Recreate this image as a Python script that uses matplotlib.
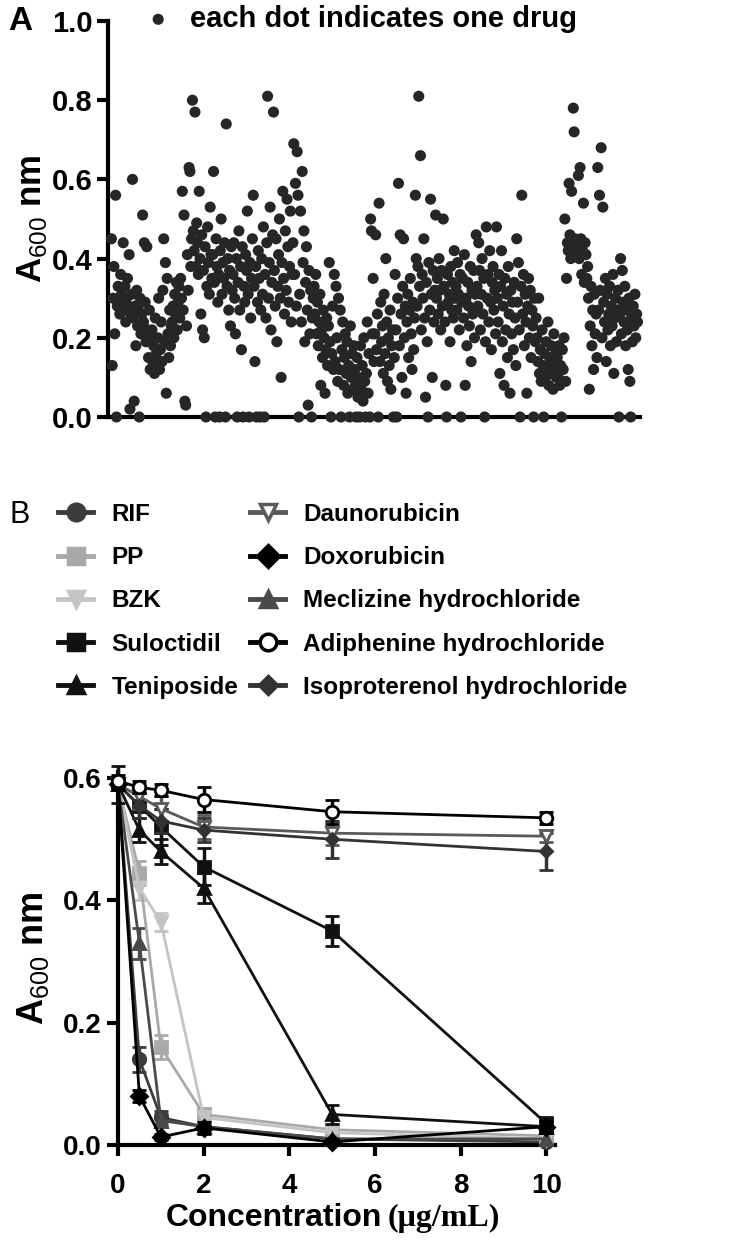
import matplotlib
matplotlib.use("Agg")
import matplotlib.pyplot as plt
from matplotlib.lines import Line2D

plt.rcParams['font.family'] = ['Liberation Sans', 'DejaVu Sans']
plt.rcParams['mathtext.fontset'] = 'custom'
plt.rcParams['mathtext.rm'] = 'Liberation Sans'
plt.rcParams['mathtext.bf'] = 'Liberation Sans:bold'

# ---------------- Panel A data: A600 per drug, in screening order ----------------
a_seg00 = [0.45,0.13,0.30,0.38,0.21,0.56,0.00,0.28,0.33,0.30,0.26,0.36,0.31,0.29,0.44,0.27,0.33,0.24,0.30,0.35,0.28,0.41,0.02,0.26]
a_seg01 = [0.31,0.60,0.25,0.04,0.28,0.18,0.32,0.23,0.27,0.00,0.30,0.21,0.26,0.51,0.24,0.44,0.29,0.19,0.43,0.22,0.15,0.27,0.12,0.20]
a_seg02 = [0.22,0.14,0.18,0.11,0.25,0.16,0.13,0.20,0.30,0.12,0.17,0.24,0.14,0.32,0.45,0.19,0.39,0.06,0.35,0.21,0.15,0.27,0.18,0.23]
a_seg03 = [0.24,0.28,0.20,0.31,0.26,0.34,0.22,0.29,0.33,0.25,0.35,0.30,0.57,0.27,0.51,0.04,0.03,0.23,0.41,0.32,0.63,0.62,0.38,0.45]
a_seg04 = [0.80,0.47,0.42,0.77,0.38,0.49,0.44,0.36,0.57,0.40,0.26,0.46,0.22,0.37,0.20,0.43,0.00,0.33,0.48,0.39,0.31,0.53,0.41,0.35]
a_seg05 = [0.41,0.62,0.34,0.00,0.45,0.38,0.29,0.36,0.00,0.42,0.50,0.31,0.39,0.35,0.44,0.00,0.74,0.33,0.40,0.27,0.37,0.23,0.43,0.32]
a_seg06 = [0.36,0.44,0.30,0.21,0.40,0.00,0.34,0.47,0.27,0.38,0.17,0.43,0.00,0.33,0.29,0.41,0.37,0.52,0.31,0.00,0.39,0.25,0.35,0.45]
a_seg07 = [0.56,0.33,0.14,0.38,0.00,0.29,0.42,0.35,0.00,0.27,0.40,0.31,0.48,0.00,0.36,0.25,0.44,0.81,0.30,0.39,0.53,0.22,0.34,0.46]
a_seg08 = [0.77,0.37,0.28,0.45,0.19,0.33,0.41,0.50,0.30,0.10,0.39,0.57,0.35,0.26,0.47,0.32,0.55,0.43,0.29,0.38,0.52,0.24,0.36,0.44]
a_seg09 = [0.69,0.36,0.59,0.28,0.67,0.56,0.00,0.31,0.52,0.24,0.62,0.39,0.47,0.19,0.34,0.43,0.27,0.03,0.37,0.21,0.32,0.00,0.25,0.30]
a_seg10 = [0.33,0.26,0.36,0.21,0.29,0.18,0.24,0.31,0.08,0.22,0.15,0.27,0.20,0.06,0.17,0.25,0.13,0.23,0.39,0.19,0.00,0.16,0.28,0.12]
a_seg11 = [0.36,0.14,0.33,0.20,0.09,0.30,0.12,0.27,0.00,0.17,0.24,0.08,0.15,0.21,0.11,0.19,0.06,0.13,0.00,0.23,0.10,0.16,0.07,0.18]
a_seg12 = [0.12,0.08,0.00,0.15,0.05,0.10,0.00,0.18,0.07,0.13,0.04,0.20,0.09,0.00,0.11,0.24,0.06,0.16,0.00,0.50,0.47,0.21,0.35,0.14]
a_seg13 = [0.21,0.46,0.17,0.26,0.00,0.54,0.14,0.29,0.19,0.23,0.11,0.31,0.16,0.40,0.24,0.09,0.20,0.13,0.27,0.07,0.18,0.22,0.00,0.15]
a_seg14 = [0.36,0.22,0.00,0.30,0.59,0.18,0.46,0.26,0.10,0.33,0.45,0.20,0.28,0.06,0.24,0.31,0.15,0.27,0.35,0.21,0.12,0.29,0.17,0.25]
a_seg15 = [0.56,0.40,0.28,0.38,0.81,0.33,0.66,0.22,0.36,0.30,0.45,0.25,0.05,0.34,0.19,0.00,0.39,0.27,0.55,0.31,0.10,0.37,0.24,0.32]
a_seg16 = [0.51,0.30,0.35,0.26,0.40,0.32,0.22,0.37,0.28,0.50,0.33,0.24,0.08,0.00,0.36,0.29,0.31,0.19,0.38,0.27,0.34,0.25,0.42,0.30]
a_seg17 = [0.33,0.27,0.39,0.31,0.22,0.36,0.00,0.29,0.35,0.25,0.41,0.08,0.30,0.18,0.34,0.28,0.23,0.38,0.14,0.32,0.26,0.37,0.20,0.31]
a_seg18 = [0.46,0.33,0.28,0.44,0.37,0.22,0.31,0.40,0.26,0.35,0.00,0.19,0.48,0.30,0.36,0.24,0.42,0.29,0.17,0.34,0.38,0.27,0.32,0.21]
a_seg19 = [0.48,0.30,0.24,0.36,0.11,0.33,0.42,0.19,0.28,0.08,0.35,0.22,0.31,0.15,0.38,0.26,0.06,0.32,0.21,0.29,0.17,0.34,0.25,0.13]
a_seg20 = [0.45,0.29,0.39,0.22,0.00,0.33,0.56,0.26,0.36,0.18,0.31,0.24,0.06,0.28,0.35,0.20,0.32,0.15,0.27,0.23,0.00,0.30,0.19,0.25]
a_seg21 = [0.20,0.14,0.30,0.11,0.17,0.09,0.22,0.13,0.00,0.16,0.10,0.19,0.12,0.24,0.08,0.15,0.11,0.18,0.14,0.07,0.21,0.12,0.16,0.10]
a_seg22 = [0.15,0.10,0.18,0.08,0.13,0.00,0.17,0.12,0.20,0.50,0.09,0.35,0.44,0.42,0.59,0.46,0.40,0.57,0.43,0.78,0.72,0.45,0.41,0.44]
a_seg23 = [0.43,0.61,0.40,0.63,0.45,0.36,0.42,0.54,0.34,0.44,0.41,0.35,0.38,0.30,0.07,0.23,0.33,0.18,0.27,0.12,0.31,0.21,0.26,0.15]
a_seg24 = [0.63,0.27,0.56,0.32,0.68,0.20,0.53,0.29,0.24,0.35,0.14,0.31,0.22,0.26,0.33,0.18,0.28,0.23,0.36,0.11,0.25,0.30,0.19,0.27]
a_seg25 = [0.32,0.00,0.26,0.40,0.21,0.37,0.29,0.24,0.33,0.18,0.27,0.22,0.12,0.30,0.09,0.00,0.25,0.19,0.28,0.23,0.31,0.20,0.26,0.24]

a_segments = [a_seg00, a_seg01, a_seg02, a_seg03, a_seg04, a_seg05, a_seg06, a_seg07,
              a_seg08, a_seg09, a_seg10, a_seg11, a_seg12, a_seg13, a_seg14, a_seg15,
              a_seg16, a_seg17, a_seg18, a_seg19, a_seg20, a_seg21, a_seg22, a_seg23,
              a_seg24, a_seg25]
a_values = [v for seg in a_segments for v in seg]
a_drug_index = list(range(1, len(a_values) + 1))

a_yticks = [0.0, 0.2, 0.4, 0.6, 0.8, 1.0]
a_ytick_labels = ["0.0", "0.2", "0.4", "0.6", "0.8", "1.0"]
a_legend = "each dot indicates one drug"

# ---------------- Panel B data ----------------
conc = [0, 0.5, 1, 2, 5, 10]
b_xticks = [0, 2, 4, 6, 8, 10]
b_yticks = [0.0, 0.2, 0.4, 0.6]
b_ytick_labels = ["0.0", "0.2", "0.4", "0.6"]

drug_names = ["RIF", "PP", "BZK", "Suloctidil", "Teniposide",
              "Daunorubicin", "Doxorubicin", "Meclizine hydrochloride",
              "Adiphenine hydrochloride", "Isoproterenol hydrochloride"]

rif_mean = [0.59, 0.14, 0.045, 0.03, 0.010, 0.005]
pp_mean = [0.59, 0.445, 0.160, 0.050, 0.025, 0.015]
bzk_mean = [0.59, 0.420, 0.365, 0.045, 0.020, 0.010]
suloctidil_mean = [0.59, 0.555, 0.520, 0.455, 0.350, 0.035]
teniposide_mean = [0.59, 0.515, 0.480, 0.420, 0.050, 0.030]
daunorubicin_mean = [0.59, 0.570, 0.550, 0.520, 0.510, 0.505]
doxorubicin_mean = [0.59, 0.080, 0.013, 0.028, 0.005, 0.030]
meclizine_mean = [0.59, 0.330, 0.040, 0.030, 0.010, 0.010]
adiphenine_mean = [0.595, 0.585, 0.580, 0.565, 0.545, 0.535]
isoproterenol_mean = [0.59, 0.555, 0.530, 0.515, 0.500, 0.480]

rif_sd = [0.01, 0.02, 0.01, 0.01, 0.005, 0.005]
pp_sd = [0.01, 0.02, 0.02, 0.01, 0.005, 0.005]
bzk_sd = [0.01, 0.02, 0.015, 0.01, 0.005, 0.005]
suloctidil_sd = [0.01, 0.02, 0.03, 0.03, 0.025, 0.01]
teniposide_sd = [0.03, 0.02, 0.02, 0.025, 0.015, 0.01]
daunorubicin_sd = [0.01, 0.02, 0.02, 0.02, 0.02, 0.01]
doxorubicin_sd = [0.01, 0.01, 0.005, 0.01, 0.005, 0.01]
meclizine_sd = [0.01, 0.025, 0.01, 0.01, 0.005, 0.005]
adiphenine_sd = [0.01, 0.01, 0.01, 0.02, 0.02, 0.01]
isoproterenol_sd = [0.01, 0.02, 0.02, 0.02, 0.03, 0.03]

means = [rif_mean, pp_mean, bzk_mean, suloctidil_mean, teniposide_mean,
         daunorubicin_mean, doxorubicin_mean, meclizine_mean, adiphenine_mean, isoproterenol_mean]
sds = [rif_sd, pp_sd, bzk_sd, suloctidil_sd, teniposide_sd,
       daunorubicin_sd, doxorubicin_sd, meclizine_sd, adiphenine_sd, isoproterenol_sd]

# styles
colors = ["#3c3c3c", "#a9a9a9", "#c4c4c4", "#111111", "#111111",
          "#5a5a5a", "#000000", "#4a4a4a", "#000000", "#333333"]
markers = ["o", "s", "v", "s", "^", "v", "D", "^", "o", "D"]
mfaces = ["#3c3c3c", "#a9a9a9", "#c4c4c4", "#111111", "#111111",
          "white", "#000000", "#4a4a4a", "white", "#333333"]
msizes = [9, 9, 9, 9, 9, 9, 8, 9, 9, 6]
zorders = [3, 3, 3, 4, 4, 5, 6, 3, 7, 5]

# ---------------- Figure ----------------
W, H = 740, 1246
fig = plt.figure(figsize=(W / 100, H / 100), dpi=100)

def box(x0, y0, x1, y1):
    return [x0 / W, 1 - y1 / H, (x1 - x0) / W, (y1 - y0) / H]

# Panel A
axA = fig.add_axes(box(108, 21, 640, 417))
axA.scatter(a_drug_index, a_values, s=64, color="#262626", edgecolors="none",
            clip_on=False, zorder=3, label=a_legend)
axA.set_xlim(-3, len(a_values) + 3)
axA.set_ylim(0, 1.0)
axA.set_yticks(a_yticks)
axA.set_yticklabels(a_ytick_labels)
axA.set_xticks([])
for sp in ["top", "right"]:
    axA.spines[sp].set_visible(False)
for sp in ["left", "bottom"]:
    axA.spines[sp].set_linewidth(3)
axA.tick_params(axis="y", width=3, length=8, labelsize=21, pad=3)
for lab in axA.get_yticklabels():
    lab.set_fontweight("bold")
axA.set_ylabel(r"A$_{\mathrm{600}}$ nm", fontsize=25, fontweight="bold", labelpad=2)
axA.legend(loc="upper left", bbox_to_anchor=(0.045, 1.07), frameon=False,
           prop={"weight": "bold", "size": 21}, handletextpad=0.6,
           borderaxespad=0, handlelength=1.0, markerscale=1.0)
fig.text(8 / W, 1 - 22 / H, "A", fontsize=24, fontweight="bold", va="center", ha="left")

# Panel B
axB = fig.add_axes(box(118, 772, 555, 1145))
handles = []
for name, m, sd, c, mk, mf, ms, zo in zip(drug_names, means, sds, colors, markers, mfaces, msizes, zorders):
    axB.errorbar(conc, m, yerr=sd, color=c, marker=mk, markerfacecolor=mf,
                 markeredgecolor=c, markeredgewidth=2, markersize=ms,
                 linewidth=2, elinewidth=2.5, capsize=5, capthick=2.5,
                 clip_on=False, zorder=zo, label=name)
    handles.append(Line2D([], [], color=c, marker=mk, markerfacecolor=mf,
                          markeredgecolor=c, markeredgewidth=2.5, markersize=ms + 3,
                          linewidth=3.5))
axB.set_xlim(0, 10.2)
axB.set_ylim(0, 0.61)
axB.set_xticks(b_xticks)
axB.set_yticks(b_yticks)
axB.set_yticklabels(b_ytick_labels)
for sp in ["top", "right"]:
    axB.spines[sp].set_visible(False)
for sp in ["left", "bottom"]:
    axB.spines[sp].set_linewidth(3)
axB.tick_params(width=3, length=8, labelsize=20, pad=4)
axB.tick_params(axis="x", pad=12)
for lab in axB.get_xticklabels() + axB.get_yticklabels():
    lab.set_fontweight("bold")
axB.set_ylabel(r"A$_{\mathrm{600}}$ nm", fontsize=26, fontweight="bold", labelpad=8)
fig.text(382 / W, 1 - 1218 / H, "Concentration", fontsize=23, fontweight="bold",
         ha="right", va="center")
fig.text(388 / W, 1 - 1218 / H, "(μg/mL)", fontsize=23, fontweight="bold",
         family="Liberation Serif", ha="left", va="center")

leg_kw = dict(loc="upper left", frameon=False,
              prop={"weight": "bold", "size": 17.5},
              handlelength=1.45, handletextpad=0.75, labelspacing=0.83,
              borderaxespad=0, borderpad=0)
fig.legend(handles[:5], drug_names[:5], bbox_to_anchor=(58 / W, 1 - 503 / H), **leg_kw)
fig.legend(handles[5:], drug_names[5:], bbox_to_anchor=(250 / W, 1 - 503 / H), **leg_kw)
fig.text(10 / W, 1 - 515 / H, "B", fontsize=22, va="center", ha="left")

fig.savefig("out.png", dpi=100)
